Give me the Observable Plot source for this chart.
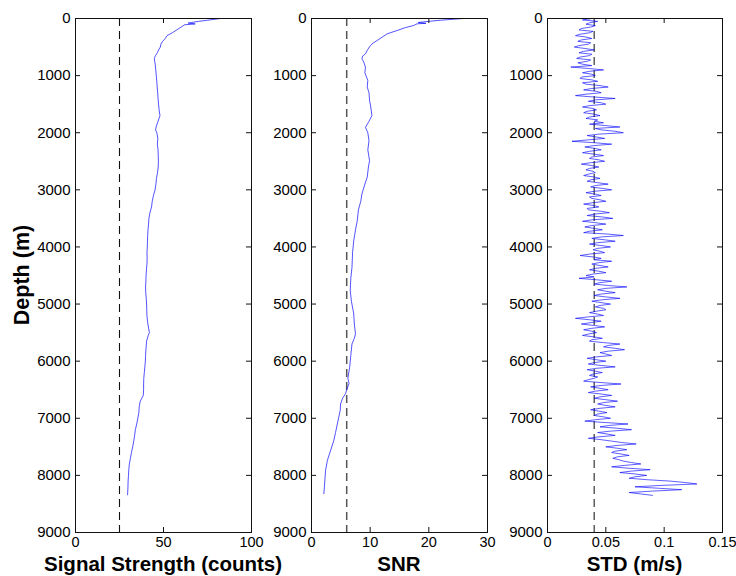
<!DOCTYPE html>
<html>
<head>
<meta charset="utf-8">
<script src="https://cdn.jsdelivr.net/npm/d3@7"></script>
<script src="https://cdn.jsdelivr.net/npm/@observablehq/plot@0.6"></script>
<style>
  html, body { margin: 0; padding: 0; background: #fff; }
  #wrap { position: relative; width: 736px; height: 576px; overflow: hidden; background: #fff; font-family: "Liberation Sans", Arial, sans-serif; }
  #wrap svg.panel { position: absolute; top: 0; }
  #overlay { position: absolute; left: 0; top: 0; pointer-events: none; }
</style>
</head>
<body>
<div id="wrap"></div>
<script>
// ---------------- data ----------------
const depthTicks = [0, 1000, 2000, 3000, 4000, 5000, 6000, 7000, 8000, 9000];

const sigTicks = [0, 50, 100];
const sigThreshold = 25;
const sigDepth = [0, 30, 50, 70, 80, 95, 110, 150, 200, 250, 300, 350, 400, 450, 500, 550, 600, 650, 700, 750, 800, 900, 1000, 1100, 1200, 1300, 1400, 1500, 1600, 1700, 1800, 1900, 1950, 2000, 2100, 2200, 2300, 2400, 2500, 2600, 2700, 2800, 2900, 3000, 3100, 3200, 3300, 3400, 3500, 3600, 3700, 3800, 3900, 4000, 4100, 4200, 4300, 4400, 4500, 4600, 4700, 4800, 4900, 5000, 5100, 5200, 5300, 5400, 5500, 5550, 5650, 5800, 5900, 6000, 6100, 6200, 6300, 6400, 6500, 6600, 6700, 6800, 6900, 7000, 7100, 7200, 7300, 7400, 7500, 7600, 7700, 7800, 7900, 8000, 8100, 8200, 8340];
const sigValue = [82.5, 75, 70, 66, 64, 68, 62, 60, 57.5, 55, 52, 51, 49.5, 48.5, 48.2, 47.2, 46.5, 45.4, 44.8, 45.0, 45.3, 45.6, 45.9, 46.2, 46.4, 46.7, 46.9, 47.2, 47.5, 48.0, 46.9, 45.8, 45.5, 46.2, 46.8, 46.5, 46.9, 47.0, 47.1, 47.0, 46.6, 46.0, 45.7, 45.2, 44.3, 43.6, 43.2, 42.3, 41.7, 41.5, 41.2, 41.0, 40.9, 40.8, 40.6, 40.7, 40.6, 40.3, 40.1, 40.0, 39.8, 39.9, 40.2, 40.4, 40.5, 40.6, 40.9, 41.4, 42.0, 41.3, 40.4, 40.0, 39.8, 39.7, 39.4, 39.1, 38.8, 38.7, 38.7, 38.5, 36.8, 36.2, 36.0, 35.4, 34.8, 34.0, 33.6, 33.1, 32.5, 31.8, 31.2, 30.6, 30.3, 30.1, 29.9, 29.8, 29.6];

const snrTicks = [0, 10, 20, 30];
const snrThreshold = 6;
const snrDepth = [0, 30, 47, 70, 85, 93, 123, 160, 210, 268, 330, 385, 430, 473, 540, 618, 660, 706, 760, 852, 950, 1085, 1200, 1300, 1436, 1550, 1700, 1800, 1905, 2000, 2140, 2300, 2490, 2600, 2780, 2900, 3070, 3200, 3350, 3540, 3700, 3890, 4100, 4360, 4550, 4760, 4950, 5170, 5350, 5520, 5600, 5700, 5900, 6110, 6300, 6390, 6500, 6570, 6650, 6750, 6860, 6980, 7100, 7250, 7390, 7550, 7740, 7800, 7910, 8050, 8200, 8320];
const snrValue = [25.9, 22, 20.3, 18.2, 19.5, 18, 17.4, 16, 14.6, 12.9, 12.0, 11.2, 10.5, 10.05, 9.6, 9.2, 8.7, 8.6, 8.9, 9.2, 9.1, 9.6, 9.5, 9.8, 9.9, 10.1, 10.3, 9.8, 9.2, 9.6, 9.8, 9.6, 9.9, 9.7, 9.5, 9.1, 8.6, 8.4, 8.0, 7.8, 7.5, 7.2, 7.0, 6.9, 6.7, 6.6, 6.8, 7.2, 7.3, 7.5, 7.3, 6.9, 6.7, 6.5, 6.2, 6.4, 6.0, 5.8, 5.3, 4.95, 4.9, 4.65, 4.4, 4.1, 3.8, 3.3, 2.7, 2.6, 2.4, 2.3, 2.2, 2.1];

const stdTicks = [0, 0.05, 0.1, 0.15];
const stdThreshold = 0.04;
const stdDepth = [0, 25, 50, 75, 100, 125, 150, 175, 200, 225, 250, 275, 300, 325, 350, 375, 400, 425, 450, 475, 500, 525, 550, 575, 600, 625, 650, 675, 700, 725, 750, 775, 800, 825, 850, 875, 900, 925, 950, 975,
  1000, 1025, 1050, 1075, 1100, 1125, 1150, 1175, 1200, 1225, 1250, 1275, 1300, 1325, 1350, 1375, 1400, 1425, 1450, 1475, 1500, 1525, 1550, 1575, 1600, 1625, 1650, 1675, 1700, 1725, 1750, 1775, 1800, 1825, 1850, 1875, 1900, 1925, 1950, 1975,
  2000, 2025, 2050, 2075, 2100, 2125, 2150, 2175, 2200, 2225, 2250, 2275, 2300, 2325, 2350, 2375, 2400, 2425, 2450, 2475, 2500, 2525, 2550, 2575, 2600, 2625, 2650, 2675, 2700, 2725, 2750, 2775, 2800, 2825, 2850, 2875, 2900, 2925, 2950, 2975,
  3000, 3025, 3050, 3075, 3100, 3125, 3150, 3175, 3200, 3225, 3250, 3275, 3300, 3325, 3350, 3375, 3400, 3425, 3450, 3475, 3500, 3525, 3550, 3575, 3600, 3625, 3650, 3675, 3700, 3725, 3750, 3775, 3800, 3825, 3850, 3875, 3900, 3925, 3950, 3975,
  4000, 4025, 4050, 4075, 4100, 4125, 4150, 4175, 4200, 4225, 4250, 4275, 4300, 4325, 4350, 4375, 4400, 4425, 4450, 4475, 4500, 4525, 4550, 4575, 4600, 4625, 4650, 4675, 4700, 4725, 4750, 4775, 4800, 4825, 4850, 4875, 4900, 4925, 4950, 4975,
  5000, 5025, 5050, 5075, 5100, 5125, 5150, 5175, 5200, 5225, 5250, 5275, 5300, 5325, 5350, 5375, 5400, 5425, 5450, 5475, 5500, 5525, 5550, 5575, 5600, 5625, 5650, 5675, 5700, 5725, 5750, 5775, 5800, 5825, 5850, 5875, 5900, 5925, 5950, 5975,
  6000, 6025, 6050, 6075, 6100, 6125, 6150, 6175, 6200, 6225, 6250, 6275, 6300, 6325, 6350, 6375, 6400, 6425, 6450, 6475, 6500, 6525, 6550, 6575, 6600, 6625, 6650, 6675, 6700, 6725, 6750, 6775, 6800, 6825, 6850, 6875, 6900, 6925, 6950, 6975,
  7000, 7025, 7050, 7075, 7100, 7125, 7150, 7175, 7200, 7225, 7250, 7275, 7300, 7325, 7350, 7375, 7400, 7425, 7450, 7475, 7500, 7525, 7550, 7575, 7600, 7625, 7650, 7675, 7700, 7725, 7750, 7775, 7800, 7825, 7850, 7875, 7900, 7925, 7950, 7975,
  8000, 8025, 8050, 8075, 8100, 8125, 8150, 8175, 8200, 8225, 8250, 8275, 8300, 8325, 8350];
const stdValue = [0.038, 0.030, 0.043, 0.036, 0.033, 0.041, 0.037, 0.029, 0.027, 0.039, 0.036, 0.028, 0.024, 0.033, 0.038, 0.029, 0.026, 0.037, 0.035, 0.027, 0.023, 0.032, 0.040, 0.031, 0.027, 0.038, 0.036, 0.028, 0.025, 0.037, 0.034, 0.026, 0.030, 0.038, 0.020, 0.035, 0.048, 0.036, 0.030, 0.038,
  0.041, 0.029, 0.028, 0.038, 0.043, 0.030, 0.033, 0.045, 0.052, 0.038, 0.031, 0.042, 0.046, 0.033, 0.024, 0.040, 0.058, 0.041, 0.035, 0.046, 0.050, 0.036, 0.030, 0.039, 0.042, 0.034, 0.031, 0.040, 0.045, 0.036, 0.033, 0.043, 0.040, 0.048, 0.036, 0.050, 0.062, 0.041, 0.046, 0.058,
  0.065, 0.044, 0.034, 0.042, 0.049, 0.035, 0.021, 0.040, 0.055, 0.040, 0.032, 0.041, 0.046, 0.036, 0.030, 0.040, 0.048, 0.038, 0.036, 0.044, 0.049, 0.037, 0.029, 0.038, 0.044, 0.036, 0.033, 0.039, 0.041, 0.035, 0.031, 0.040, 0.045, 0.037, 0.034, 0.043, 0.052, 0.041, 0.037, 0.047,
  0.055, 0.040, 0.033, 0.041, 0.046, 0.036, 0.038, 0.045, 0.050, 0.039, 0.031, 0.040, 0.044, 0.034, 0.035, 0.046, 0.053, 0.040, 0.034, 0.047, 0.056, 0.038, 0.030, 0.041, 0.050, 0.038, 0.032, 0.040, 0.047, 0.036, 0.031, 0.052, 0.065, 0.046, 0.038, 0.049, 0.058, 0.043, 0.036, 0.046,
  0.054, 0.043, 0.039, 0.045, 0.049, 0.036, 0.028, 0.039, 0.046, 0.040, 0.055, 0.044, 0.038, 0.045, 0.052, 0.041, 0.036, 0.044, 0.050, 0.039, 0.033, 0.040, 0.027, 0.042, 0.055, 0.045, 0.040, 0.052, 0.068, 0.050, 0.043, 0.050, 0.058, 0.046, 0.040, 0.050, 0.062, 0.047, 0.038, 0.046,
  0.054, 0.045, 0.041, 0.048, 0.050, 0.042, 0.036, 0.043, 0.048, 0.035, 0.024, 0.036, 0.046, 0.037, 0.029, 0.040, 0.049, 0.038, 0.031, 0.038, 0.042, 0.035, 0.030, 0.040, 0.047, 0.038, 0.036, 0.048, 0.062, 0.052, 0.048, 0.058, 0.066, 0.052, 0.045, 0.050, 0.055, 0.042, 0.034, 0.042,
  0.050, 0.040, 0.035, 0.046, 0.058, 0.042, 0.034, 0.041, 0.047, 0.039, 0.036, 0.043, 0.040, 0.035, 0.031, 0.046, 0.063, 0.046, 0.037, 0.045, 0.052, 0.041, 0.035, 0.046, 0.055, 0.045, 0.040, 0.050, 0.060, 0.048, 0.043, 0.050, 0.058, 0.045, 0.037, 0.044, 0.051, 0.043, 0.040, 0.048,
  0.054, 0.041, 0.032, 0.050, 0.069, 0.053, 0.045, 0.060, 0.072, 0.054, 0.043, 0.051, 0.058, 0.044, 0.035, 0.046, 0.055, 0.064, 0.076, 0.060, 0.050, 0.060, 0.068, 0.058, 0.055, 0.063, 0.070, 0.060, 0.056, 0.061, 0.065, 0.072, 0.080, 0.066, 0.055, 0.070, 0.088, 0.072, 0.062, 0.075,
  0.085, 0.075, 0.070, 0.085, 0.105, 0.118, 0.128, 0.098, 0.075, 0.095, 0.115, 0.090, 0.070, 0.080, 0.090];

const xTitles = ["Signal Strength (counts)", "SNR", "STD (m/s)"];
const yTitle = "Depth (m)";

// ---------------- layout ----------------
const H = 576, MT = 18, MB = 44;
const FONT = '"Liberation Sans", Arial, Helvetica, sans-serif';
const panels = [
  {left: 0,   width: 260, ml: 75, mr: 9,  max: 100,  ticks: sigTicks, thr: sigThreshold, depth: sigDepth, value: sigValue, dash: "#111", dashW: 1.1},
  {left: 260, width: 236, ml: 51, mr: 9,  max: 30,   ticks: snrTicks, thr: snrThreshold, depth: snrDepth, value: snrValue, dash: "#555", dashW: 1.5},
  {left: 496, width: 240, ml: 51, mr: 14, max: 0.15, ticks: stdTicks, thr: stdThreshold, depth: stdDepth, value: stdValue, dash: "#222", dashW: 1.1}
];

const wrap = document.getElementById("wrap");
const TL = 5; // tick length in px
panels.forEach((p, i) => {
  const plotW = p.width - p.ml - p.mr;
  const plotH = H - MT - MB;
  const tx = p.max * TL / plotW;
  const ty = 9000 * TL / plotH;
  const data = p.depth.map((d, k) => ({depth: d, v: p.value[k]}));
  const chart = Plot.plot({
    width: p.width, height: H,
    marginLeft: p.ml, marginRight: p.mr, marginTop: MT, marginBottom: MB,
    style: {fontFamily: FONT, fontSize: "15px", color: "#000", background: "transparent", overflow: "visible"},
    x: {domain: [0, p.max]},
    y: {domain: [0, 9000], reverse: true},
    marks: [
      Plot.ruleX([p.thr], {x: d => d, stroke: p.dash, strokeWidth: p.dashW, strokeDasharray: "8,5"}),
      Plot.line(data, {x: "v", y: "depth", stroke: "#0000ff", strokeWidth: i === 2 ? 0.7 : 0.75, strokeOpacity: 0.9}),
      // inward ticks on all sides
      Plot.ruleX(p.ticks, {x: d => d, y1: 9000, y2: 9000 - ty, stroke: "#111", strokeWidth: 1}),
      Plot.ruleX(p.ticks, {x: d => d, y1: 0, y2: ty, stroke: "#111", strokeWidth: 1}),
      Plot.ruleY(depthTicks, {y: d => d, x1: 0, x2: tx, stroke: "#111", strokeWidth: 1}),
      Plot.ruleY(depthTicks, {y: d => d, x1: p.max, x2: p.max - tx, stroke: "#111", strokeWidth: 1}),
      Plot.axisX(p.ticks, {anchor: "bottom", tickSize: 0, tickPadding: 4, tickFormat: d => String(d), label: null, fontSize: 14.5}),
      Plot.axisY(depthTicks, {anchor: "left", tickSize: 0, tickPadding: 5, tickFormat: d => String(d), label: null, fontSize: 15}),
      Plot.frame({stroke: "#111", strokeWidth: 1})
    ]
  });
  chart.classList.add("panel");
  chart.style.left = p.left + "px";
  wrap.appendChild(chart);
});

// titles overlay
const ov = d3.select(wrap).append("svg").attr("id", "overlay").attr("width", 736).attr("height", H);
panels.forEach((p, i) => {
  const cx = p.left + p.ml + (p.width - p.ml - p.mr) / 2;
  ov.append("text").attr("x", cx).attr("y", 571).attr("text-anchor", "middle")
    .attr("font-family", FONT).attr("font-weight", "bold").attr("font-size", 20.5).attr("fill", "#000")
    .text(xTitles[i]);
});
ov.append("text").attr("transform", "translate(29,275) rotate(-90)").attr("text-anchor", "middle")
  .attr("font-family", FONT).attr("font-weight", "bold").attr("font-size", 21.5).attr("fill", "#000")
  .text(yTitle);
</script>
</body>
</html>
